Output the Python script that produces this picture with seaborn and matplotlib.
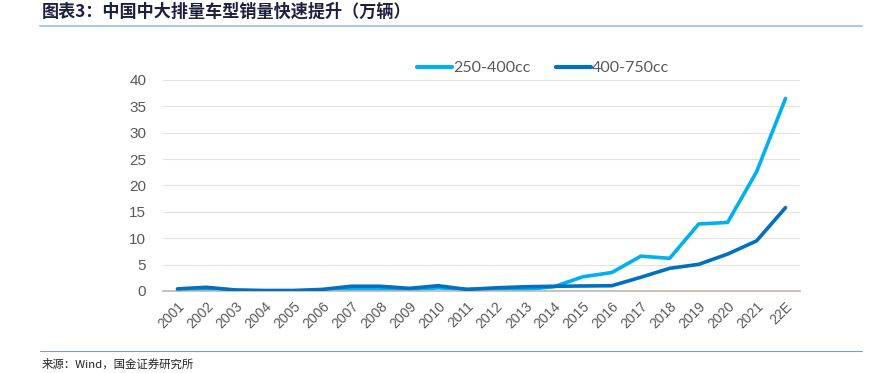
import matplotlib
matplotlib.use("Agg")
import matplotlib.pyplot as plt
import seaborn as sns
import pandas as pd
from matplotlib.lines import Line2D

years = ["2001", "2002", "2003", "2004", "2005", "2006", "2007", "2008", "2009", "2010",
         "2011", "2012", "2013", "2014", "2015", "2016", "2017", "2018", "2019", "2020",
         "2021", "22E"]
cc_250_400 = [0.1, 0.2, 0.1, 0.0, 0.0, 0.1, 0.3, 0.3, 0.2, 0.6,
              0.3, 0.4, 0.3, 0.8, 2.7, 3.5, 6.6, 6.2, 12.7, 13.0,
              22.6, 36.5]
cc_400_750 = [0.4, 0.7, 0.2, 0.1, 0.1, 0.3, 0.9, 0.9, 0.5, 1.0,
              0.3, 0.6, 0.8, 0.9, 0.95, 1.0, 2.6, 4.3, 5.05, 7.0,
              9.5, 15.8]

sns.set_style("white")
plt.rcParams['font.family'] = ['Noto Sans CJK SC', 'DejaVu Sans']

df = pd.DataFrame({"x": list(range(len(years))), "a": cc_250_400, "b": cc_400_750})

fig = plt.figure(figsize=(8.77, 3.73), dpi=100)
ax = fig.add_axes([163 / 877, 1 - 291 / 373, 637 / 877, 211 / 373])

light = "#00B0F0"
dark = "#0070C0"
sns.lineplot(data=df, x="x", y="a", ax=ax, color=light, lw=2.6, zorder=2)
sns.lineplot(data=df, x="x", y="b", ax=ax, color=dark, lw=2.6, zorder=3)

ax.set_xlim(-0.5, len(years) - 0.5)
ax.set_ylim(0, 40)
ax.set_yticks(range(0, 41, 5))
ax.set_xticks(range(len(years)))
ax.set_xticklabels(years, rotation=45, ha="right", rotation_mode="anchor",
                   fontsize=10, color="#595959", family="Liberation Sans")
ax.set_xticks([i - 0.5 for i in range(len(years) + 1)], minor=True)
ax.tick_params(axis="x", which="major", length=0, pad=6)
ax.tick_params(axis="x", which="minor", length=5, color="#BFB8AF", width=1, direction="out")
ax.tick_params(axis="y", length=0, labelsize=11, labelcolor="#595959", pad=12)
for lab in ax.get_yticklabels():
    lab.set_family("Liberation Sans")
ax.set_xlabel("")
ax.set_ylabel("")
ax.grid(axis="y", color="#E6E3DE", lw=0.8)
ax.set_axisbelow(True)
for s in ["top", "right", "left"]:
    ax.spines[s].set_visible(False)
ax.spines["bottom"].set_color("#BFB8AF")
ax.spines["bottom"].set_linewidth(1.2)

handles = [Line2D([], [], color=light, lw=3), Line2D([], [], color=dark, lw=3)]
fig.legend(handles, ["250-400cc", "400-750cc"], loc="center", bbox_to_anchor=(543 / 877, 1 - 68 / 373),
           ncol=2, frameon=False, handlelength=2.2, handletextpad=0.05,
           columnspacing=1.6, labelcolor="#595959", prop={"family": "Lato", "size": 11.5})

fig.text(42 / 877, 1 - 12 / 373, "图表3：中国中大排量车型销量快速提升（万辆）", fontsize=12.3,
         fontweight="bold", style="italic", color="#1F1F3F", va="center", ha="left")
fig.add_artist(Line2D([40 / 877, 862 / 877], [1 - 26 / 373, 1 - 26 / 373], color="#B4C7D7", lw=1.5))
fig.add_artist(Line2D([40 / 877, 862 / 877], [1 - 351 / 373, 1 - 351 / 373], color="#8A9BAA", lw=0.8))
fig.text(42 / 877, 1 - 364 / 373, "来源：Wind，国金证券研究所", fontsize=8.2, color="#222222",
         va="center", ha="left")

fig.savefig("out.png", dpi=100)
